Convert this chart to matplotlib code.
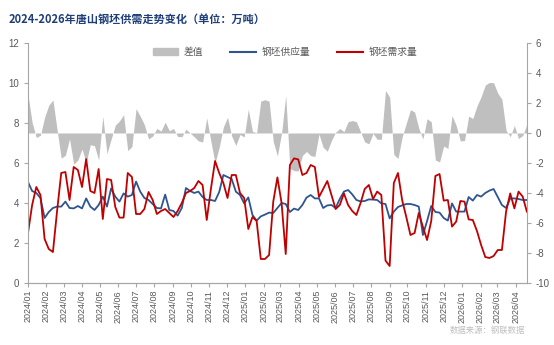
import numpy as np
import pandas as pd
import matplotlib
matplotlib.use('Agg')
import matplotlib.pyplot as plt
import matplotlib.dates as mdates
from matplotlib.patches import Patch
from matplotlib.lines import Line2D

plt.rcParams['font.family'] = ['Liberation Sans', 'Noto Sans CJK SC', 'DejaVu Sans']
plt.rcParams['axes.unicode_minus'] = False

# weekly data (万吨)
supply = [5.05, 4.6, 4.5, 4.25, 3.25, 3.55, 3.75, 3.82, 3.82, 4.07,
          3.75, 3.73, 3.85, 3.73, 4.23, 3.82, 3.65, 3.9, 4.32, 3.82,
          4.73, 4.32, 4.07, 4.48, 4.32, 4.4, 5.07, 4.57, 4.25, 4.15,
          3.95, 3.75, 3.73, 4.42, 3.65, 3.6, 3.37, 3.75, 4.75, 4.6,
          4.5, 4.57, 4.3, 4.15, 4.15, 4.1, 4.55, 5.4, 5.3, 5.2,
          4.57, 4.4, 3.98, 4.28, 3.4, 3.12, 3.33, 3.42, 3.52, 3.5,
          3.75, 4.0, 3.95, 3.55, 3.72, 3.65, 3.9, 4.27, 4.4, 4.23,
          4.23, 3.75, 3.88, 3.9, 3.75, 4.2, 4.57, 4.65, 4.43, 4.15,
          4.08, 4.1, 4.18, 4.17, 4.15, 3.98, 3.95, 3.23, 3.57, 3.8,
          3.88, 3.95, 3.95, 3.9, 3.82, 2.4, 3.1, 3.85, 3.55, 3.52,
          3.25, 3.12, 3.98, 3.57, 3.57, 3.57, 4.3, 4.12, 4.4, 4.32,
          4.5, 4.62, 4.7, 4.3, 3.9, 3.75, 4.23, 4.23, 4.2, 4.15,
          4.15]
demand = [2.5, 3.9, 4.8, 4.4, 2.2, 1.7, 1.55, 3.6, 5.5, 5.55,
          4.15, 5.8, 5.65, 4.8, 6.2, 4.6, 4.5, 5.7, 3.2, 5.2,
          5.15, 3.8, 3.27, 3.27, 5.5, 5.3, 3.45, 3.45, 3.7, 4.55,
          4.15, 3.45, 3.6, 3.7, 3.5, 3.3, 3.6, 4.0, 4.5, 4.6,
          4.75, 5.1, 4.9, 3.15, 4.7, 6.1, 5.5, 5.0, 4.25, 5.4,
          5.4, 4.5, 4.25, 2.7, 3.3, 3.1, 1.2, 1.2, 1.4, 4.07,
          5.28, 4.0, 1.45, 5.9, 6.23, 6.18, 5.4, 5.5, 5.9, 5.8,
          4.3, 4.7, 5.1, 4.4, 3.7, 3.9, 4.48, 3.9, 3.6, 3.4,
          4.0, 4.7, 4.9, 4.2, 4.57, 4.4, 1.12, 0.85, 5.0, 5.5,
          4.15, 3.3, 2.4, 2.5, 3.5, 2.8, 2.15, 3.1, 5.35, 5.45,
          4.12, 4.15, 2.82, 3.07, 4.1, 4.07, 3.18, 3.15, 2.6, 1.9,
          1.3, 1.25, 1.35, 1.65, 1.65, 3.57, 4.48, 3.73, 4.57, 4.32,
          3.57]
dates = pd.date_range('2024-01-01', periods=len(supply), freq='7D')
diff = np.array(supply) - np.array(demand)

title = '2024-2026年唐山钢坯供需走势变化（单位：万吨）'
labels = ['差值', '钢坯供应量', '钢坯需求量']
source = '数据来源：钢联数据'

gray = '#BFBFBF'
blue = '#2E5590'
red = '#C00000'
axis_col = '#A6A6A6'
txt_col = '#595959'

fig = plt.figure(figsize=(5.54, 3.45), dpi=100)
ax = fig.add_axes([0.0505, 0.1797, 0.9005, 0.6957])
ax2 = ax.twinx()

# gray area on the right axis, lines on top
ax2.fill_between(dates, 0, diff, color=gray, linewidth=0)
ax.plot(dates, supply, color=blue, lw=1.3)
ax.plot(dates, demand, color=red, lw=1.3)
ax.set_zorder(ax2.get_zorder() + 1)
ax.patch.set_visible(False)

ax.set_ylim(0, 12)
ax.set_yticks(range(0, 13, 2))
ax2.set_ylim(-10, 6)
ax2.set_yticks(range(-10, 7, 2))
ax.set_xlim(dates[0], dates[-1])

ax.xaxis.set_major_locator(mdates.MonthLocator())
ax.xaxis.set_major_formatter(mdates.DateFormatter('%Y/%m'))
for lab in ax.get_xticklabels():
    lab.set_rotation(90)

for a in (ax, ax2):
    a.spines['top'].set_visible(False)
    for s in ('left', 'right', 'bottom'):
        a.spines[s].set_color(axis_col)
        a.spines[s].set_linewidth(0.8)
    a.tick_params(colors=axis_col, labelcolor=txt_col, labelsize=7, length=3, width=0.8)
ax.tick_params(axis='x', labelsize=6.5, pad=2)
ax2.spines['left'].set_visible(False)
ax.spines['right'].set_visible(False)

handles = [Patch(color=gray), Line2D([], [], color=blue, lw=1.5), Line2D([], [], color=red, lw=1.5)]
ax.legend(handles, labels, loc='upper center', bbox_to_anchor=(0.515, 1.02), ncol=3, frameon=False,
          fontsize=7, labelcolor=txt_col, handlelength=2.6, columnspacing=2.8, handletextpad=0.6)

fig.text(0.015, 0.945, title, fontsize=8, fontweight='bold', color='#1F3E7A',
         family=['Noto Sans CJK SC', 'DejaVu Sans'], va='center')
fig.text(0.948, 0.043, source, fontsize=6, color='#BFBFBF', ha='right', va='center',
         family=['Noto Sans CJK SC', 'DejaVu Sans'])

fig.savefig('out.png', dpi=100)
